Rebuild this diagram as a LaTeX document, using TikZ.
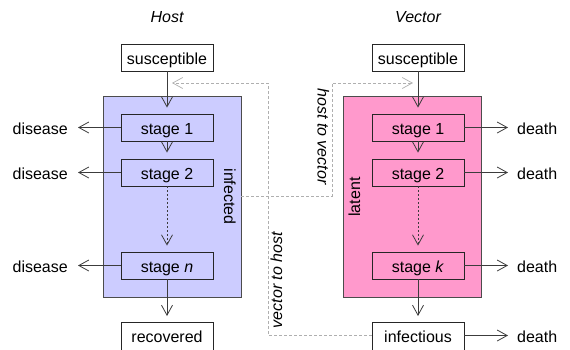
\documentclass[tikz,border=0pt]{standalone}
\usepackage{fontspec}
\setmainfont{Liberation Sans}
\usetikzlibrary{arrows.meta}
\definecolor{hostfill}{RGB}{204,204,255}
\definecolor{vecfill}{RGB}{255,153,204}
\definecolor{linegray}{RGB}{60,60,60}
\definecolor{dashgray}{RGB}{175,175,175}

\begin{document}
\begin{tikzpicture}[x=1pt,y=-1pt,
  font=\fontsize{16}{19}\selectfont,
  every node/.style={text height=11.5pt,text depth=3.5pt},
  lowtext/.style={text height=14.5pt,text depth=1.5pt},
  stagebox/.style={lowtext,draw=black!85,line width=0.8pt,minimum width=92pt,
    minimum height=27pt,inner sep=0pt},
  endbox/.style={stagebox,fill=white,minimum height=33pt,anchor=north,
    text height=11.5pt,text depth=4.5pt},
  compart/.style={draw=black!70,line width=0.8pt,minimum width=138pt,
    minimum height=201pt,inner sep=0pt},
  outlabel/.style={inner sep=0pt},
  sidelabel/.style={lowtext,inner sep=0pt},
  ital/.style={font=\fontsize{16}{19}\selectfont\itshape,inner sep=0pt},
  flow/.style={draw=linegray,line width=0.8pt,
    -{Straight Barb[length=10pt,width=11pt]},shorten >=6pt},
  xfer/.style={draw=dashgray,line width=0.7pt,dash pattern=on 3pt off 2pt,
    -{Straight Barb[length=10pt,width=11pt]},shorten >=5pt},
]
\useasboundingbox (0,0) rectangle (570,349);

% column titles
\node[ital] (htitle) at (167,18) {Host};
\node[ital] (vtitle) at (418,18) {Vector};

% host compartments
\node[stagebox,fill=white] (hsus) at (167,57.5) {susceptible};
\node[compart,fill=hostfill] (hbox) at (172,196.5) {};
\node[stagebox] (h1) at (167,127.5) {stage 1};
\node[stagebox] (h2) at (167,172.5) {stage 2};
\node[stagebox] (hn) at (167,265.5) {stage \textit{n}};
\node[endbox] (hrec) at (167,322) {recovered};
\node[outlabel,rotate=-90] (hlab) at (228,196.5) {infected};

% vector compartments
\node[stagebox,fill=white] (vsus) at (418,57.5) {susceptible};
\node[compart,fill=vecfill] (vbox) at (412,196.5) {};
\node[stagebox] (v1) at (418,127.5) {stage 1};
\node[stagebox] (v2) at (418,172.5) {stage 2};
\node[stagebox] (vk) at (418,265.5) {stage \textit{k}};
\node[endbox] (vinf) at (418,322) {infectious};
\node[outlabel,rotate=90] (vlab) at (356,197) {latent};

% exits
\node[sidelabel,anchor=east] (hd1) at (68,127.5) {disease};
\node[sidelabel,anchor=east] (hd2) at (68,172.5) {disease};
\node[sidelabel,anchor=east] (hdn) at (68,265.5) {disease};
\node[sidelabel,anchor=west] (vd1) at (517,127.5) {death};
\node[sidelabel,anchor=west] (vd2) at (517,172.5) {death};
\node[sidelabel,anchor=west] (vdk) at (517,265.5) {death};
\node[sidelabel,anchor=west] (vdi) at (517,335.5) {death};

% progression within the host
\draw[flow] (hsus) -- (h1);
\draw[flow] (h1) -- (h2);
\draw[flow,dash pattern=on 2pt off 2pt] (h2) -- (hn);
\draw[flow] (hn) -- (hrec);
\draw[flow,shorten >=10pt] (h1) -- (hd1);
\draw[flow,shorten >=10pt] (h2) -- (hd2);
\draw[flow,shorten >=10pt] (hn) -- (hdn);

% progression within the vector
\draw[flow] (vsus) -- (v1);
\draw[flow] (v1) -- (v2);
\draw[flow,dash pattern=on 2pt off 2pt] (v2) -- (vk);
\draw[flow] (vk) -- (vinf);
\draw[flow,shorten >=9pt] (v1) -- (vd1);
\draw[flow,shorten >=9pt] (v2) -- (vd2);
\draw[flow,shorten >=9pt] (vk) -- (vdk);
\draw[flow,shorten >=9pt] (vinf.east |- vdi.west) -- (vdi.west);

% transmission routes
\coordinate (hin) at (167,83);
\coordinate (vin) at (418,83);
\coordinate (htvlow) at (332,196.5);
\coordinate (htvtop) at (332,83);
\coordinate (vthlow) at (268,335.5);
\coordinate (vthtop) at (268,83);
\draw[xfer] (hbox.east) -- (htvlow) -- (htvtop) -- (vin);
\draw[xfer] (vinf.west |- vthlow) -- (vthlow) -- (vthtop) -- (hin);
\node[ital,rotate=-90] (htvlab) at (321.5,136.5) {host to vector};
\node[ital,rotate=90] (vthlab) at (278,280) {vector to host};
\end{tikzpicture}
\end{document}
